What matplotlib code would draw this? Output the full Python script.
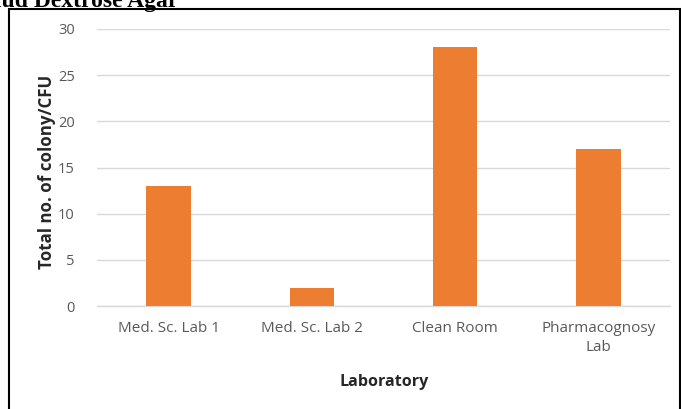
import matplotlib
matplotlib.use("Agg")
import matplotlib.pyplot as plt
from matplotlib.patches import Rectangle

# Data
categories = ["Med. Sc. Lab 1", "Med. Sc. Lab 2", "Clean Room", "Pharmacognosy\nLab"]
colony_counts = [13, 2, 28, 17]
y_ticks = [0, 5, 10, 15, 20, 25, 30]

W, H = 681, 409
fig = plt.figure(figsize=(W / 100, H / 100), dpi=100)
fig.patch.set_facecolor("white")

font = ["Open Sans", "DejaVu Sans"]
tick_color = "#595959"

ax = fig.add_axes([97 / W, 1 - 306 / H, (670 - 97) / W, (306 - 29) / H])
x = list(range(len(categories)))
ax.bar(x, colony_counts, width=0.31, color="#ED7D31", zorder=3)

ax.set_xlim(-0.5, len(categories) - 0.5)
ax.set_ylim(0, 30)
ax.set_yticks(y_ticks)
ax.set_yticklabels([str(v) for v in y_ticks], fontsize=10.5, color=tick_color, family=font)
ax.set_xticks(x)
ax.set_xticklabels(categories, fontsize=11, color=tick_color, family=font, linespacing=1.35)
ax.tick_params(axis="y", length=0, pad=16)
ax.tick_params(axis="x", length=0, pad=11)

ax.grid(axis="y", color="#D9D9D9", linewidth=1, zorder=0)
for side in ["top", "right", "left"]:
    ax.spines[side].set_visible(False)
ax.spines["bottom"].set_color("#D9D9D9")
ax.spines["bottom"].set_linewidth(1)

# Axis titles
fig.text(47 / W, 1 - 172 / H, "Total no. of colony/CFU", rotation=90,
         ha="center", va="center", fontsize=12.2, fontweight="bold",
         color="#262626", family=font)
fig.text(384 / W, 23 / H, "Laboratory", ha="center", va="baseline",
         fontsize=11.6, fontweight="bold", color="#262626", family=font)

# Frame around the chart
fig.add_artist(Rectangle((9 / W, -0.01), (680 - 9) / W, 1 - 9 / H + 0.01,
                         transform=fig.transFigure, fill=False,
                         edgecolor="black", linewidth=1.5))

# Heading above the chart
fig.text(178 / W, 1 - 7 / H, "Sabouraud Dextrose Agar", ha="right", va="baseline",
         fontsize=17, fontweight="bold", family=["Liberation Serif", "DejaVu Serif"])

fig.savefig("out.png", dpi=100)
